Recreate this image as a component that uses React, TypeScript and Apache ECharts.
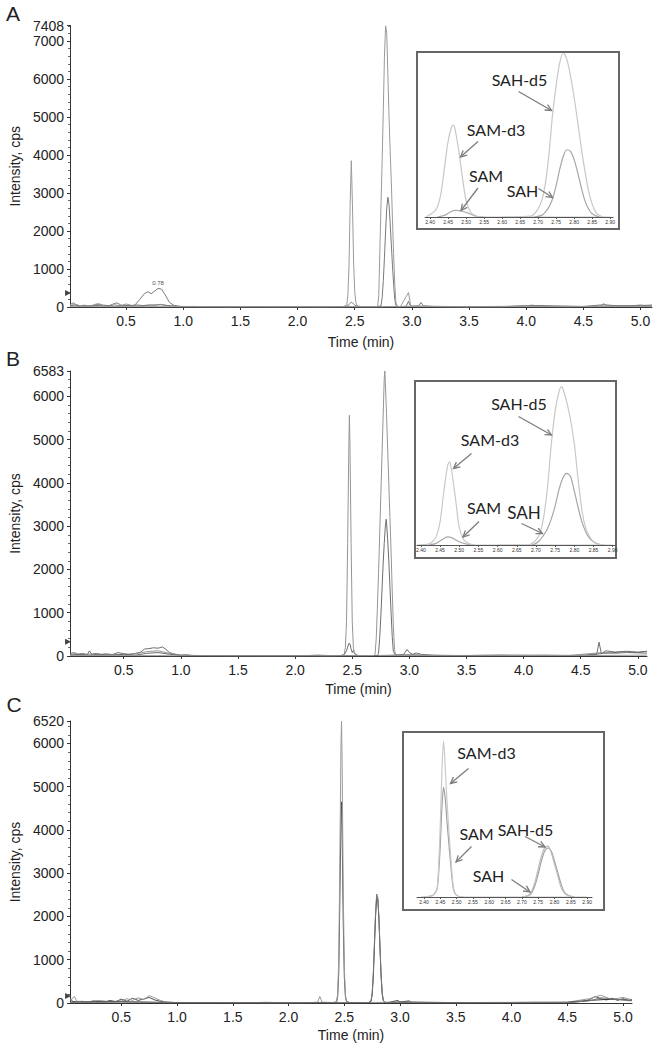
import React, { useEffect, useRef } from "react";
import * as echarts from "echarts";

type P = [number, number];

// ---------- tick labels ----------
const timeTicks = [0.5, 1.0, 1.5, 2.0, 2.5, 3.0, 3.5, 4.0, 4.5, 5.0];
const insetTicks = [2.4, 2.45, 2.5, 2.55, 2.6, 2.65, 2.7, 2.75, 2.8, 2.85, 2.9];
const yTicksA = [0, 1000, 2000, 3000, 4000, 5000, 6000, 7000, 7408];
const yTicksB = [0, 1000, 2000, 3000, 4000, 5000, 6000, 6583];
const yTicksC = [0, 1000, 2000, 3000, 4000, 5000, 6000, 6520];
const panelLetters = ["A", "B", "C"];
const compoundNames = ["SAM", "SAM-d3", "SAH", "SAH-d5"];

// ---------- panel A (main chromatogram, cps vs min) ----------
const aSAM: P[] = [
  [0.01, 60], [0.04, 110], [0.07, 40], [0.1, 20], [0.13, 50], [0.16, 30], [0.2, 15], [0.24, 60], [0.27, 80],
  [0.3, 30], [0.34, 20], [0.38, 70], [0.42, 110], [0.45, 60], [0.48, 30], [0.52, 50], [0.55, 30], [0.58, 60],
  [0.62, 200], [0.66, 350], [0.69, 400], [0.72, 350], [0.75, 420], [0.78, 490], [0.81, 470], [0.84, 330],
  [0.88, 120], [0.92, 40], [0.96, 20], [1.0, 10], [1.1, 15], [1.2, 5], [1.3, 10], [1.4, 5], [1.5, 10], [1.6, 5],
  [1.7, 10], [1.8, 5], [1.9, 10], [2.0, 5], [2.1, 10], [2.2, 5], [2.3, 10], [2.4, 10], [2.44, 30], [2.46, 100],
  [2.47, 130], [2.48, 110], [2.5, 50], [2.52, 20], [2.55, 5], [2.6, 10], [2.7, 5], [2.8, 10], [2.9, 10],
  [2.95, 20], [2.97, 150], [2.98, 60], [3.0, 15], [3.06, 30], [3.08, 120], [3.1, 30], [3.2, 10], [3.4, 5],
  [3.6, 10], [3.8, 5], [4.0, 30], [4.05, 50], [4.1, 20], [4.3, 10], [4.5, 10], [4.65, 20], [4.68, 90],
  [4.7, 20], [4.8, 40], [4.9, 30], [5.0, 50], [5.05, 30], [5.1, 40],
];
const aSAMd3: P[] = [
  [0.01, 20], [0.05, 80], [0.1, 30], [0.15, 10], [0.2, 40], [0.25, 90], [0.3, 30], [0.35, 20], [0.4, 60],
  [0.45, 30], [0.5, 80], [0.55, 40], [0.6, 60], [0.65, 30], [0.7, 50], [0.75, 40], [0.8, 70], [0.85, 40],
  [0.9, 20], [0.95, 10], [1.0, 15], [1.2, 10], [1.4, 5], [1.6, 10], [1.8, 5], [2.0, 10], [2.2, 5], [2.35, 10],
  [2.4, 10], [2.43, 50], [2.44, 300], [2.45, 1100], [2.46, 2700], [2.47, 3850], [2.48, 2700], [2.49, 1200],
  [2.5, 400], [2.51, 120], [2.52, 40], [2.55, 10], [2.7, 5], [2.9, 10], [2.97, 380], [2.99, 20], [3.2, 15],
  [3.5, 5], [3.8, 10], [4.0, 40], [4.05, 20], [4.3, 10], [4.6, 15], [4.8, 30], [5.0, 20], [5.1, 30],
];
const aSAHd5: P[] = [
  [0.01, 10], [0.3, 10], [0.6, 10], [1.0, 5], [1.5, 5], [2.0, 5], [2.5, 5], [2.7, 10], [2.71, 300],
  [2.72, 1500], [2.73, 2700], [2.74, 3900], [2.75, 5200], [2.76, 6600], [2.77, 7400], [2.78, 7200],
  [2.79, 6100], [2.8, 5000], [2.81, 4100], [2.82, 3300], [2.83, 2300], [2.84, 1400], [2.85, 600],
  [2.86, 120], [2.87, 30], [2.88, 10], [3.0, 10], [3.5, 5], [4.0, 10], [4.5, 10], [5.0, 15], [5.1, 10],
];
const aSAH: P[] = [
  [0.01, 30], [0.05, 50], [0.1, 20], [0.2, 30], [0.3, 50], [0.4, 20], [0.5, 40], [0.6, 30], [0.7, 50],
  [0.8, 60], [0.9, 30], [1.0, 10], [1.5, 10], [2.0, 10], [2.5, 10], [2.7, 10], [2.73, 30], [2.74, 250],
  [2.75, 700], [2.76, 1300], [2.77, 2000], [2.78, 2600], [2.79, 2890], [2.8, 2700], [2.81, 2200],
  [2.82, 1650], [2.83, 1100], [2.84, 600], [2.85, 200], [2.86, 40], [2.88, 10], [3.0, 20], [3.5, 10],
  [4.0, 20], [4.1, 40], [4.5, 15], [4.68, 60], [4.8, 30], [5.0, 40], [5.1, 50],
];
const aPeakTime = 0.78;
const aPeakHeight = 490;
const aThreshold = 370;

// ---------- panel B ----------
const bSAM: P[] = [
  [0.03, 50], [0.06, 80], [0.1, 40], [0.14, 60], [0.18, 30], [0.2, 120], [0.22, 40], [0.26, 60], [0.3, 40],
  [0.35, 50], [0.4, 30], [0.45, 80], [0.5, 50], [0.55, 40], [0.6, 60], [0.65, 90], [0.68, 160], [0.72, 170],
  [0.76, 190], [0.8, 180], [0.84, 210], [0.87, 150], [0.9, 80], [0.95, 40], [1.0, 20], [1.05, 30], [1.1, 10],
  [1.3, 10], [1.5, 5], [1.7, 10], [1.9, 5], [2.1, 10], [2.2, 20], [2.3, 10], [2.4, 10], [2.43, 30],
  [2.45, 120], [2.47, 290], [2.48, 280], [2.49, 160], [2.5, 80], [2.51, 130], [2.52, 60], [2.55, 10],
  [2.7, 10], [2.9, 20], [2.95, 40], [2.98, 150], [3.0, 80], [3.03, 40], [3.06, 70], [3.1, 40], [3.2, 15],
  [3.5, 10], [3.8, 20], [4.0, 10], [4.2, 15], [4.4, 10], [4.6, 20], [4.64, 40], [4.66, 320], [4.68, 60],
  [4.72, 120], [4.8, 90], [4.9, 110], [5.0, 90], [5.08, 110],
];
const bSAMd3: P[] = [
  [0.03, 30], [0.08, 60], [0.12, 20], [0.2, 50], [0.3, 20], [0.4, 40], [0.5, 30], [0.6, 50], [0.7, 100],
  [0.8, 120], [0.9, 60], [1.0, 20], [1.2, 10], [1.5, 10], [1.8, 5], [2.1, 10], [2.3, 5], [2.4, 10],
  [2.43, 40], [2.44, 200], [2.45, 800], [2.46, 2600], [2.47, 4800], [2.475, 5560], [2.48, 4900],
  [2.49, 2600], [2.5, 800], [2.51, 200], [2.52, 50], [2.55, 10], [2.8, 10], [3.0, 30], [3.3, 10],
  [3.6, 15], [4.0, 10], [4.4, 15], [4.7, 80], [4.8, 60], [4.9, 80], [5.0, 70], [5.08, 60],
];
const bSAHd5: P[] = [
  [0.03, 10], [0.5, 10], [1.0, 5], [1.5, 5], [2.0, 5], [2.5, 5], [2.69, 10], [2.7, 50], [2.71, 400],
  [2.72, 1100], [2.73, 1900], [2.74, 2800], [2.75, 3700], [2.76, 4600], [2.77, 5500], [2.78, 6400],
  [2.785, 6583], [2.79, 6300], [2.8, 5600], [2.81, 4800], [2.82, 4000], [2.83, 3200], [2.84, 2400],
  [2.85, 1500], [2.86, 700], [2.87, 150], [2.88, 30], [2.9, 10], [3.5, 5], [4.0, 10], [4.5, 10], [5.08, 20],
];
const bSAH: P[] = [
  [0.03, 20], [0.1, 40], [0.2, 20], [0.3, 30], [0.4, 20], [0.5, 40], [0.6, 20], [0.7, 60], [0.8, 80],
  [0.9, 40], [1.0, 10], [1.5, 10], [2.0, 10], [2.5, 10], [2.72, 10], [2.73, 60], [2.74, 400], [2.75, 900],
  [2.76, 1500], [2.77, 2100], [2.78, 2600], [2.79, 3000], [2.797, 3160], [2.8, 3100], [2.81, 2700],
  [2.82, 2200], [2.83, 1600], [2.84, 1000], [2.85, 450], [2.86, 100], [2.88, 20], [3.0, 20], [3.5, 10],
  [4.0, 20], [4.5, 10], [4.7, 60], [4.85, 90], [5.0, 80], [5.08, 100],
];
const bThreshold = 330;

// ---------- panel C ----------
const cSAM: P[] = [
  [0.04, 120], [0.06, 40], [0.1, 20], [0.15, 40], [0.2, 10], [0.25, 50], [0.3, 30], [0.35, 20], [0.4, 60],
  [0.45, 30], [0.5, 90], [0.55, 40], [0.6, 110], [0.65, 60], [0.7, 90], [0.75, 130], [0.8, 70], [0.85, 40],
  [0.9, 20], [1.0, 10], [1.2, 5], [1.4, 10], [1.6, 5], [1.8, 15], [2.0, 5], [2.2, 10], [2.3, 10], [2.4, 10],
  [2.43, 20], [2.44, 150], [2.45, 700], [2.46, 2400], [2.47, 4300], [2.475, 4650], [2.48, 4000],
  [2.49, 1900], [2.5, 600], [2.51, 130], [2.52, 30], [2.55, 10], [2.7, 10], [2.9, 15], [2.98, 60],
  [3.0, 20], [3.08, 50], [3.1, 15], [3.3, 10], [3.6, 5], [3.9, 10], [4.2, 15], [4.5, 10], [4.65, 40],
  [4.7, 80], [4.75, 150], [4.8, 100], [4.85, 70], [4.9, 110], [4.95, 60], [5.0, 100], [5.05, 50], [5.08, 90],
];
const cSAMd3: P[] = [
  [0.04, 60], [0.08, 150], [0.1, 40], [0.2, 30], [0.3, 60], [0.4, 30], [0.5, 50], [0.55, 100], [0.6, 60],
  [0.65, 120], [0.7, 80], [0.75, 170], [0.78, 140], [0.85, 60], [0.9, 20], [1.0, 10], [1.5, 10], [2.0, 5],
  [2.2, 10], [2.26, 20], [2.28, 150], [2.3, 20], [2.4, 10], [2.43, 30], [2.44, 200], [2.45, 1000],
  [2.46, 3400], [2.47, 6000], [2.475, 6520], [2.48, 5600], [2.49, 2700], [2.5, 800], [2.51, 180],
  [2.52, 40], [2.55, 10], [2.8, 10], [3.0, 20], [3.5, 10], [4.0, 15], [4.5, 20], [4.7, 100], [4.8, 180],
  [4.9, 80], [5.0, 130], [5.08, 70],
];
const cSAHd5: P[] = [
  [0.04, 10], [0.5, 20], [1.0, 5], [1.5, 5], [2.0, 5], [2.5, 5], [2.72, 10], [2.74, 60], [2.75, 250],
  [2.76, 700], [2.77, 1400], [2.78, 2100], [2.79, 2520], [2.8, 2450], [2.81, 2000], [2.82, 1300],
  [2.83, 650], [2.84, 230], [2.85, 60], [2.87, 10], [3.0, 10], [3.5, 5], [4.0, 10], [4.5, 10], [4.7, 50],
  [4.8, 120], [5.08, 50],
];
const cSAH: P[] = [
  [0.04, 20], [0.5, 30], [1.0, 10], [1.5, 5], [2.0, 5], [2.5, 5], [2.72, 10], [2.74, 40], [2.75, 200],
  [2.76, 600], [2.77, 1300], [2.78, 2000], [2.79, 2440], [2.8, 2400], [2.81, 1950], [2.82, 1250],
  [2.83, 600], [2.84, 200], [2.85, 50], [2.87, 10], [3.0, 20], [3.5, 10], [4.0, 10], [4.5, 15], [4.7, 60],
  [4.9, 90], [5.08, 60],
];
const cThreshold = 160;

// ---------- insets (relative intensity, % of inset height) ----------
const insetA_SAMd3: P[] = [
  [2.39, 0], [2.4, 1.5], [2.41, 3], [2.42, 6], [2.43, 14], [2.44, 30], [2.45, 46], [2.46, 55], [2.465, 56],
  [2.47, 53], [2.48, 40], [2.49, 24], [2.5, 10], [2.51, 4], [2.52, 1.5], [2.54, 0], [2.9, 0],
];
const insetA_SAM: P[] = [
  [2.42, 0], [2.44, 1], [2.46, 3.5], [2.47, 4], [2.49, 3.5], [2.51, 2], [2.53, 0.3], [2.55, 0],
];
const insetA_SAHd5: P[] = [
  [2.6, 0], [2.68, 0.5], [2.69, 2], [2.7, 5], [2.71, 10], [2.72, 20], [2.73, 38], [2.74, 62], [2.75, 80],
  [2.76, 94], [2.77, 100], [2.78, 96], [2.79, 86], [2.8, 73], [2.81, 58], [2.82, 42], [2.83, 28],
  [2.84, 16], [2.85, 8], [2.86, 3], [2.87, 1], [2.88, 0],
];
const insetA_SAH: P[] = [
  [2.69, 0], [2.71, 1], [2.72, 3], [2.73, 6], [2.74, 11], [2.75, 19], [2.76, 29], [2.77, 37], [2.78, 41],
  [2.79, 40], [2.8, 35], [2.81, 27], [2.82, 18], [2.83, 10], [2.84, 5], [2.85, 2], [2.87, 0],
];

const insetB_SAMd3: P[] = [
  [2.39, 0], [2.42, 0.5], [2.43, 2], [2.44, 5], [2.45, 14], [2.46, 33], [2.47, 49], [2.475, 51], [2.48, 46],
  [2.49, 29], [2.5, 11], [2.51, 4], [2.52, 1.5], [2.54, 0], [2.9, 0],
];
const insetB_SAM: P[] = [
  [2.42, 0], [2.44, 1], [2.46, 4], [2.47, 5], [2.48, 4.5], [2.5, 2], [2.52, 0.5], [2.54, 0],
];
const insetB_SAHd5: P[] = [
  [2.6, 0], [2.68, 0], [2.69, 1], [2.7, 3], [2.71, 7], [2.72, 17], [2.73, 35], [2.74, 62], [2.75, 82],
  [2.76, 94], [2.767, 97], [2.77, 96], [2.78, 88], [2.79, 77], [2.8, 62], [2.81, 40], [2.82, 21],
  [2.83, 10], [2.84, 5], [2.85, 2], [2.86, 0.5], [2.88, 0],
];
const insetB_SAH: P[] = [
  [2.69, 0], [2.7, 1], [2.71, 3], [2.72, 6], [2.73, 10], [2.74, 16], [2.75, 24], [2.76, 34], [2.77, 41],
  [2.78, 44], [2.79, 42], [2.8, 33], [2.81, 23], [2.82, 14], [2.83, 8], [2.84, 4], [2.85, 2], [2.87, 0],
];

const insetC_SAMd3: P[] = [
  [2.39, 0], [2.42, 0.5], [2.43, 1.5], [2.44, 5], [2.445, 20], [2.45, 45], [2.455, 78], [2.46, 95],
  [2.465, 80], [2.47, 60], [2.48, 30], [2.49, 6], [2.5, 1], [2.52, 0], [2.9, 0],
];
const insetC_SAM: P[] = [
  [2.4, 0], [2.42, 0.5], [2.43, 1.5], [2.44, 5], [2.445, 15], [2.45, 32], [2.455, 55], [2.46, 67],
  [2.465, 60], [2.47, 47], [2.48, 24], [2.49, 5], [2.5, 1], [2.52, 0],
];
const insetC_SAHd5: P[] = [
  [2.7, 0], [2.72, 1], [2.73, 3.5], [2.74, 9], [2.75, 17], [2.76, 25], [2.77, 30], [2.78, 31], [2.79, 27],
  [2.8, 20], [2.81, 13], [2.82, 6], [2.83, 2.5], [2.84, 1], [2.86, 0],
];
const insetC_SAH: P[] = [
  [2.7, 0], [2.72, 0.8], [2.73, 2.5], [2.74, 7], [2.75, 14], [2.76, 22], [2.77, 28], [2.78, 30], [2.79, 28],
  [2.8, 22], [2.81, 15], [2.82, 8], [2.83, 3], [2.84, 1.2], [2.86, 0],
];

// ---------- layout & style ----------
const AXIS_FONT = 'Arial, "Liberation Sans", sans-serif';
const NOTE_FONT = 'Lato, "Open Sans", sans-serif';

const mainLayouts = [
  { grid: { left: 66, top: 25.5, width: 586, height: 281.5 }, xMin: 0.01, xMax: 5.1, nameGap: 28, letter: [13, 13] },
  { grid: { left: 66, top: 371, width: 581, height: 285 }, xMin: 0.03, xMax: 5.08, nameGap: 26, letter: [13, 358] },
  { grid: { left: 67, top: 721, width: 565, height: 282 }, xMin: 0.04, xMax: 5.08, nameGap: 25, letter: [14, 704] },
];
const insetLayouts = [
  { box: [417, 52, 202, 177], grid: { left: 425, top: 53, width: 188, height: 164 }, xMin: 2.386, xMax: 2.908 },
  { box: [415, 381, 201, 177], grid: { left: 417, top: 382, width: 198, height: 163 }, xMin: 2.39, xMax: 2.906 },
  { box: [403, 732, 201, 178], grid: { left: 417, top: 733, width: 175, height: 164 }, xMin: 2.3785, xMax: 2.915 },
];
// label positions [cx, cy, fontSize] per compound, and arrows [x1,y1,x2,y2]
const insetNotes = [
  {
    labels: [[486, 175.5, 16], [496, 129, 16], [522.5, 190, 16], [519.5, 79, 16]],
    arrows: [[478, 188, 461, 210.5], [478, 141.5, 460.5, 157], [538.5, 188.5, 552.5, 197.5], [518.5, 91.5, 551.5, 110.5]],
  },
  {
    labels: [[484, 507, 16], [490, 439, 16], [524, 512.5, 17], [519, 403.5, 16]],
    arrows: [[479, 521.5, 463, 537], [471.5, 453.5, 453.5, 468.5], [521.5, 523.5, 542.5, 533.5], [518.5, 416.5, 551.5, 435]],
  },
  {
    labels: [[476.5, 833, 16], [486.5, 752.5, 16], [488.5, 875, 16], [525.5, 829, 16]],
    arrows: [[471.5, 846.5, 456, 862], [468.5, 768.5, 450.5, 783.5], [511.5, 879.5, 530, 892], [525, 836.5, 545, 847]],
  },
];

const mainSeries = [
  { lines: [aSAM, aSAMd3, aSAH, aSAHd5], colors: ["#7a7a7a", "#9a9a9a", "#7a7a7a", "#9a9a9a"], yMax: yTicksA[yTicksA.length - 1], yTicks: yTicksA, threshold: aThreshold },
  { lines: [bSAM, bSAMd3, bSAH, bSAHd5], colors: ["#6e6e6e", "#959595", "#6e6e6e", "#959595"], yMax: yTicksB[yTicksB.length - 1], yTicks: yTicksB, threshold: bThreshold },
  { lines: [cSAM, cSAMd3, cSAH, cSAHd5], colors: ["#505050", "#9a9a9a", "#3a3a3a", "#7a7a7a"], yMax: yTicksC[yTicksC.length - 1], yTicks: yTicksC, threshold: cThreshold },
];
const insetSeries = [
  { lines: [insetA_SAM, insetA_SAMd3, insetA_SAH, insetA_SAHd5], colors: ["#aaaaaa", "#c8c8c8", "#a6a6a6", "#c8c8c8"] },
  { lines: [insetB_SAM, insetB_SAMd3, insetB_SAH, insetB_SAHd5], colors: ["#aaaaaa", "#c8c8c8", "#a6a6a6", "#c8c8c8"] },
  { lines: [insetC_SAM, insetC_SAMd3, insetC_SAH, insetC_SAHd5], colors: ["#a0a0a0", "#cacaca", "#a0a0a0", "#bdbdbd"] },
];

function arrow(x1: number, y1: number, x2: number, y2: number) {
  const ang = Math.atan2(y2 - y1, x2 - x1);
  const L = 7;
  const a = 0.45;
  const p1 = [x2 - L * Math.cos(ang - a), y2 - L * Math.sin(ang - a)];
  const p2 = [x2 - L * Math.cos(ang + a), y2 - L * Math.sin(ang + a)];
  const style = { stroke: "#7d7d7d", lineWidth: 1.3, fill: null };
  return [
    { type: "line", z: 20, shape: { x1, y1, x2, y2 }, style },
    { type: "polyline", z: 20, shape: { points: [p1, [x2, y2], p2] }, style },
  ];
}

function buildOption() {
  const grid: any[] = [];
  const xAxis: any[] = [];
  const yAxis: any[] = [];
  const series: any[] = [];
  const graphic: any[] = [];

  mainLayouts.forEach((lay, i) => {
    const ms = mainSeries[i];
    grid.push({ ...lay.grid, containLabel: false });
    xAxis.push({
      type: "value",
      gridIndex: i,
      min: lay.xMin,
      max: lay.xMax,
      name: "Time (min)",
      nameLocation: "middle",
      nameGap: lay.nameGap,
      nameTextStyle: { fontSize: 14, color: "#222", fontFamily: AXIS_FONT },
      axisLine: { show: true, lineStyle: { color: "#333", width: 1 } },
      axisTick: { show: true, length: 3, customValues: timeTicks, lineStyle: { color: "#333" } },
      axisLabel: {
        customValues: timeTicks,
        fontSize: 14,
        color: "#222",
        fontFamily: AXIS_FONT,
        margin: 7,
        formatter: (v: number) => v.toFixed(1),
      },
      splitLine: { show: false },
    });
    yAxis.push({
      type: "value",
      gridIndex: i,
      min: 0,
      max: ms.yMax,
      interval: 1000,
      name: "Intensity, cps",
      nameLocation: "middle",
      nameGap: 44,
      nameTextStyle: { fontSize: 14, color: "#222", fontFamily: AXIS_FONT },
      axisLine: { show: true, lineStyle: { color: "#333", width: 1 } },
      axisTick: { show: true, length: 3, customValues: ms.yTicks, lineStyle: { color: "#333" } },
      minorTick: { show: true, splitNumber: 5, length: 2, lineStyle: { color: "#666" } },
      axisLabel: {
        customValues: ms.yTicks,
        fontSize: 14,
        color: "#222",
        fontFamily: AXIS_FONT,
        margin: 6,
        formatter: (v: number) => String(Math.round(v)),
      },
      splitLine: { show: false },
    });
    ms.lines.forEach((d, k) => {
      const s: any = {
        type: "line",
        name: panelLetters[i] + " " + compoundNames[k],
        xAxisIndex: i,
        yAxisIndex: i,
        data: d,
        showSymbol: false,
        symbol: "none",
        lineStyle: { width: 1, color: ms.colors[k] },
        itemStyle: { color: ms.colors[k] },
        z: 2,
      };
      if (k === 0) {
        const mp: any[] = [
          {
            coord: [lay.xMin, ms.threshold],
            symbol: "triangle",
            symbolRotate: -90,
            symbolSize: [6, 6],
            symbolOffset: [-2, 0],
            itemStyle: { color: "#444" },
            label: { show: false },
          },
        ];
        if (i === 0) {
          mp.push({
            coord: [aPeakTime, aPeakHeight],
            symbol: "circle",
            symbolSize: 0,
            label: {
              show: true,
              position: "top",
              distance: 2,
              formatter: aPeakTime.toFixed(2),
              fontSize: 6,
              color: "#555",
              fontFamily: AXIS_FONT,
            },
          });
        }
        s.markPoint = { silent: true, data: mp };
      }
      series.push(s);
    });
    graphic.push({
      type: "text",
      x: lay.letter[0],
      y: lay.letter[1],
      z: 20,
      style: {
        text: panelLetters[i],
        fontSize: 21,
        fontFamily: AXIS_FONT,
        fill: "#222",
        align: "center",
        verticalAlign: "middle",
      },
    });
  });

  insetLayouts.forEach((lay, j) => {
    const gi = 3 + j;
    const ins = insetSeries[j];
    grid.push({ ...lay.grid, containLabel: false });
    xAxis.push({
      type: "value",
      gridIndex: gi,
      min: lay.xMin,
      max: lay.xMax,
      z: 5,
      axisLine: { show: true, lineStyle: { color: "#555", width: 1 } },
      axisTick: { show: true, length: 2, customValues: insetTicks, lineStyle: { color: "#555" } },
      axisLabel: {
        customValues: insetTicks,
        fontSize: 5,
        color: "#333",
        fontFamily: AXIS_FONT,
        margin: 2,
        formatter: (v: number) => v.toFixed(2),
      },
      splitLine: { show: false },
    });
    yAxis.push({ type: "value", gridIndex: gi, min: 0, max: 100, show: false, splitLine: { show: false } });
    ins.lines.forEach((d, k) => {
      series.push({
        type: "line",
        name: "inset " + panelLetters[j] + " " + compoundNames[k],
        xAxisIndex: gi,
        yAxisIndex: gi,
        data: d,
        showSymbol: false,
        symbol: "none",
        smooth: 0.3,
        lineStyle: { width: 1.2, color: ins.colors[k] },
        itemStyle: { color: ins.colors[k] },
        z: 4,
      });
    });
    graphic.push({
      type: "rect",
      z: 1,
      shape: { x: lay.box[0], y: lay.box[1], width: lay.box[2], height: lay.box[3] },
      style: { fill: "#fff", stroke: "#666", lineWidth: 2 },
    });
    const notes = insetNotes[j];
    notes.labels.forEach((lb, k) => {
      graphic.push({
        type: "text",
        x: lb[0],
        y: lb[1],
        z: 20,
        style: {
          text: compoundNames[k],
          fontSize: lb[2],
          fontFamily: NOTE_FONT,
          fill: "#222",
          align: "center",
          verticalAlign: "middle",
        },
      });
    });
    notes.arrows.forEach((a) => {
      graphic.push(...arrow(a[0], a[1], a[2], a[3]));
    });
  });

  return {
    animation: false,
    backgroundColor: "#fff",
    grid,
    xAxis,
    yAxis,
    series,
    graphic: { elements: graphic },
  };
}

export default function App() {
  const ref = useRef<HTMLDivElement>(null);
  useEffect(() => {
    const chart = echarts.init(ref.current!, null, { renderer: "svg" });
    chart.setOption(buildOption() as any);
    return () => chart.dispose();
  }, []);
  return (
    <div
      ref={ref}
      style={{ position: "absolute", left: 0, top: 0, width: 660, height: 1050, background: "#fff" }}
    />
  );
}
